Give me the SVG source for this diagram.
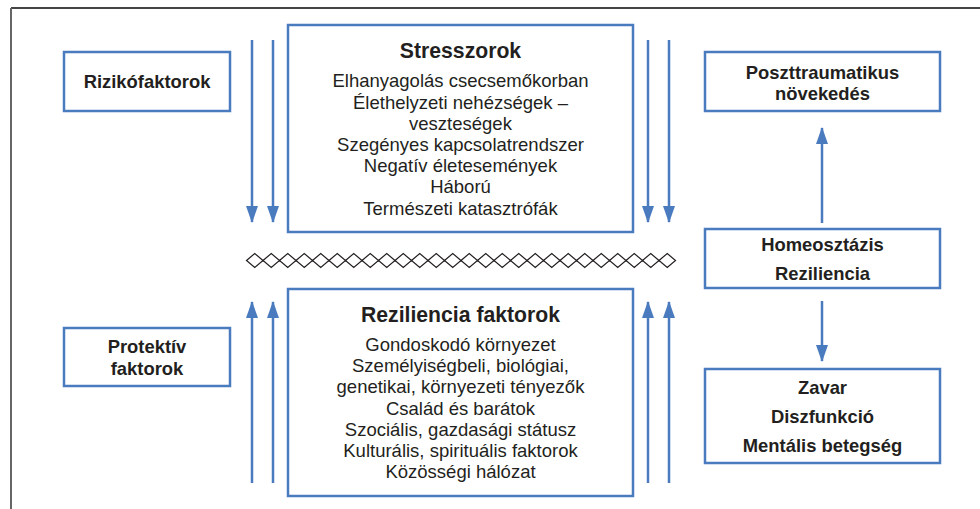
<svg xmlns="http://www.w3.org/2000/svg" width="980" height="509" viewBox="0 0 980 509">
<defs>
<style>
.box{fill:#fff;stroke:#4a7bbf;stroke-width:2.5}
.t{font-family:"Liberation Sans",Arial,sans-serif;fill:#231f20;text-anchor:middle}
.b{font-weight:bold;font-size:18.4px}
.h{font-weight:bold;font-size:21.2px}
.n{font-size:18.5px}
.c{stroke:#4a7bbf;stroke-width:2.5;fill:none}
.d{fill:none;stroke:#231f20;stroke-width:1.2}
</style>
<marker id="a" viewBox="0 0 17 12" refX="16" refY="6" markerWidth="17" markerHeight="12" markerUnits="userSpaceOnUse" orient="auto">
<path d="M0,0 L17,6 L0,12 z" fill="#4a7bbf"/>
</marker>
</defs>
<rect width="980" height="509" fill="#fff"/>
<g id="frame">
<line x1="11" y1="8" x2="980" y2="8" stroke="#444" stroke-width="2"/>
<line x1="11" y1="8" x2="11" y2="509" stroke="#666" stroke-width="2"/>
</g>
<g id="rizikofaktorok">
<rect class="box" x="64" y="52" width="166" height="59"/>
<text class="t b" x="147" y="88">Rizikófaktorok</text>
</g>
<g id="stresszorok">
<rect class="box" x="288" y="25" width="345" height="207"/>
<text class="t h" x="460.5" y="57.5">Stresszorok</text>
<text class="t n" x="460.5" y="87.3">Elhanyagolás csecsemőkorban</text>
<text class="t n" x="460.5" y="108.5">Élethelyzeti nehézségek –</text>
<text class="t n" x="460.5" y="129.7">veszteségek</text>
<text class="t n" x="460.5" y="150.9">Szegényes kapcsolatrendszer</text>
<text class="t n" x="460.5" y="172.1">Negatív életesemények</text>
<text class="t n" x="460.5" y="193.3">Háború</text>
<text class="t n" x="460.5" y="214.5">Természeti katasztrófák</text>
</g>
<g id="poszttraumatikus">
<rect class="box" x="705" y="52" width="235" height="59"/>
<text class="t b" x="822.5" y="78.5">Poszttraumatikus</text>
<text class="t b" x="822.5" y="99.5">növekedés</text>
</g>
<g id="homeosztazis">
<rect class="box" x="705" y="229" width="235" height="59"/>
<text class="t b" x="822.5" y="250.5">Homeosztázis</text>
<text class="t b" x="822.5" y="280">Reziliencia</text>
</g>
<g id="zavar">
<rect class="box" x="705" y="369" width="235" height="94"/>
<text class="t b" x="822.5" y="394">Zavar</text>
<text class="t b" x="822.5" y="422.8">Diszfunkció</text>
<text class="t b" x="822.5" y="451.6">Mentális betegség</text>
</g>
<g id="protektiv">
<rect class="box" x="64" y="328" width="166" height="58"/>
<text class="t b" x="147" y="353">Protektív</text>
<text class="t b" x="147" y="374.5">faktorok</text>
</g>
<g id="reziliencia">
<rect class="box" x="288" y="289" width="345" height="207"/>
<text class="t h" x="460.5" y="321.5">Reziliencia faktorok</text>
<text class="t n" x="460.5" y="351">Gondoskodó környezet</text>
<text class="t n" x="460.5" y="372.2">Személyiségbeli, biológiai,</text>
<text class="t n" x="460.5" y="393.4">genetikai, környezeti tényezők</text>
<text class="t n" x="460.5" y="414.6">Család és barátok</text>
<text class="t n" x="460.5" y="435.8">Szociális, gazdasági státusz</text>
<text class="t n" x="460.5" y="457">Kulturális, spirituális faktorok</text>
<text class="t n" x="460.5" y="478.2">Közösségi hálózat</text>
</g>
<g id="divider">
<path class="d" d="M246.5,260.5 l8.25,-7 l8.25,7 l-8.25,7 z m16.5,0 l8.25,-7 l8.25,7 l-8.25,7 z m16.5,0 l8.25,-7 l8.25,7 l-8.25,7 z m16.5,0 l8.25,-7 l8.25,7 l-8.25,7 z m16.5,0 l8.25,-7 l8.25,7 l-8.25,7 z m16.5,0 l8.25,-7 l8.25,7 l-8.25,7 z m16.5,0 l8.25,-7 l8.25,7 l-8.25,7 z m16.5,0 l8.25,-7 l8.25,7 l-8.25,7 z m16.5,0 l8.25,-7 l8.25,7 l-8.25,7 z m16.5,0 l8.25,-7 l8.25,7 l-8.25,7 z m16.5,0 l8.25,-7 l8.25,7 l-8.25,7 z m16.5,0 l8.25,-7 l8.25,7 l-8.25,7 z m16.5,0 l8.25,-7 l8.25,7 l-8.25,7 z m16.5,0 l8.25,-7 l8.25,7 l-8.25,7 z m16.5,0 l8.25,-7 l8.25,7 l-8.25,7 z m16.5,0 l8.25,-7 l8.25,7 l-8.25,7 z m16.5,0 l8.25,-7 l8.25,7 l-8.25,7 z m16.5,0 l8.25,-7 l8.25,7 l-8.25,7 z m16.5,0 l8.25,-7 l8.25,7 l-8.25,7 z m16.5,0 l8.25,-7 l8.25,7 l-8.25,7 z m16.5,0 l8.25,-7 l8.25,7 l-8.25,7 z m16.5,0 l8.25,-7 l8.25,7 l-8.25,7 z m16.5,0 l8.25,-7 l8.25,7 l-8.25,7 z m16.5,0 l8.25,-7 l8.25,7 l-8.25,7 z m16.5,0 l8.25,-7 l8.25,7 l-8.25,7 z m16.5,0 l8.25,-7 l8.25,7 l-8.25,7 z"/>
</g>
<g id="connectors">
<line class="c" x1="252" y1="40" x2="252" y2="222" marker-end="url(#a)"/>
<line class="c" x1="273" y1="40" x2="273" y2="222" marker-end="url(#a)"/>
<line class="c" x1="648" y1="40" x2="648" y2="222" marker-end="url(#a)"/>
<line class="c" x1="669" y1="40" x2="669" y2="222" marker-end="url(#a)"/>
<line class="c" x1="252" y1="483" x2="252" y2="302" marker-end="url(#a)"/>
<line class="c" x1="273" y1="483" x2="273" y2="302" marker-end="url(#a)"/>
<line class="c" x1="648" y1="483" x2="648" y2="302" marker-end="url(#a)"/>
<line class="c" x1="669" y1="483" x2="669" y2="302" marker-end="url(#a)"/>
<line class="c" x1="822" y1="223" x2="822" y2="128" marker-end="url(#a)"/>
<line class="c" x1="822" y1="301" x2="822" y2="361" marker-end="url(#a)"/>
</g>
</svg>
